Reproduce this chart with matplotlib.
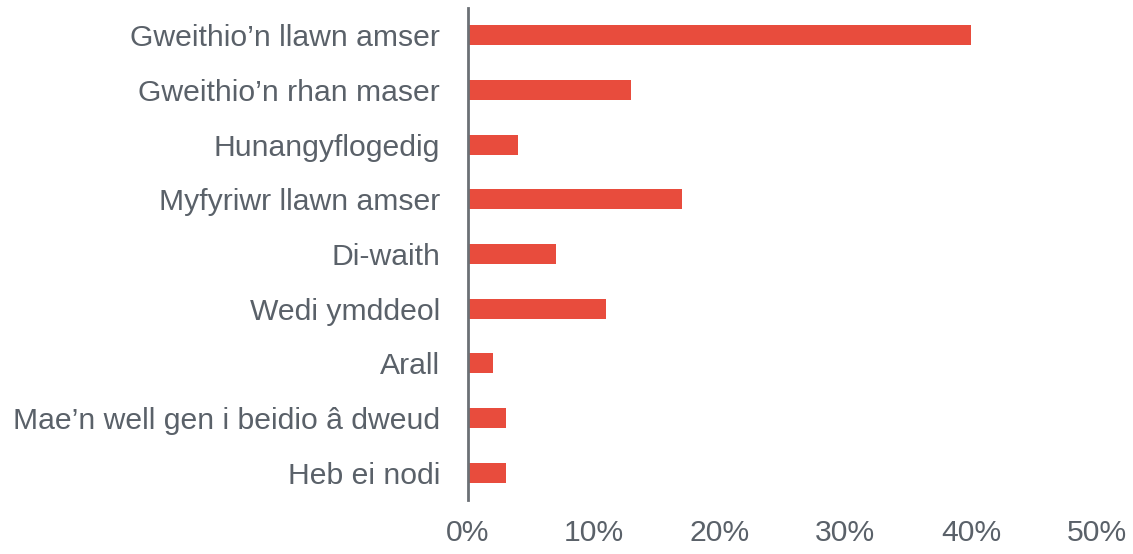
import matplotlib.pyplot as plt
from matplotlib.ticker import PercentFormatter

categories = [
    "Gweithio\u2019n llawn amser",
    "Gweithio\u2019n rhan maser",
    "Hunangyflogedig",
    "Myfyriwr llawn amser",
    "Di-waith",
    "Wedi ymddeol",
    "Arall",
    "Mae\u2019n well gen i beidio \u00e2 dweud",
    "Heb ei nodi",
]
values = [40, 13, 4, 17, 7, 11, 2, 3, 3]
xticks = [0, 10, 20, 30, 40, 50]

BAR_COLOR = "#E84C3D"
TEXT_COLOR = "#5A6169"
AXIS_COLOR = "#6B7075"

plt.rcParams["font.family"] = ["Liberation Sans", "DejaVu Sans"]

fig = plt.figure(figsize=(11.33, 5.54), dpi=100)
ax = fig.add_axes([0.413, 0.0975, 0.555, 0.888])

pos = list(range(len(categories)))
ax.barh(pos, values, height=0.37, color=BAR_COLOR)

ax.set_ylim(len(categories) - 0.5, -0.5)
ax.set_xlim(0, 50)
ax.set_yticks(pos)
ax.set_yticklabels(categories)
ax.set_xticks(xticks)
ax.xaxis.set_major_formatter(PercentFormatter(decimals=0))

for side in ["top", "right", "bottom"]:
    ax.spines[side].set_visible(False)
ax.spines["left"].set_color(AXIS_COLOR)
ax.spines["left"].set_linewidth(2)

ax.tick_params(axis="y", length=0, pad=20, labelsize=21.7, labelcolor=TEXT_COLOR)
ax.tick_params(axis="x", length=0, pad=14, labelsize=21.7, labelcolor=TEXT_COLOR)

fig.savefig("out.png", dpi=100)
